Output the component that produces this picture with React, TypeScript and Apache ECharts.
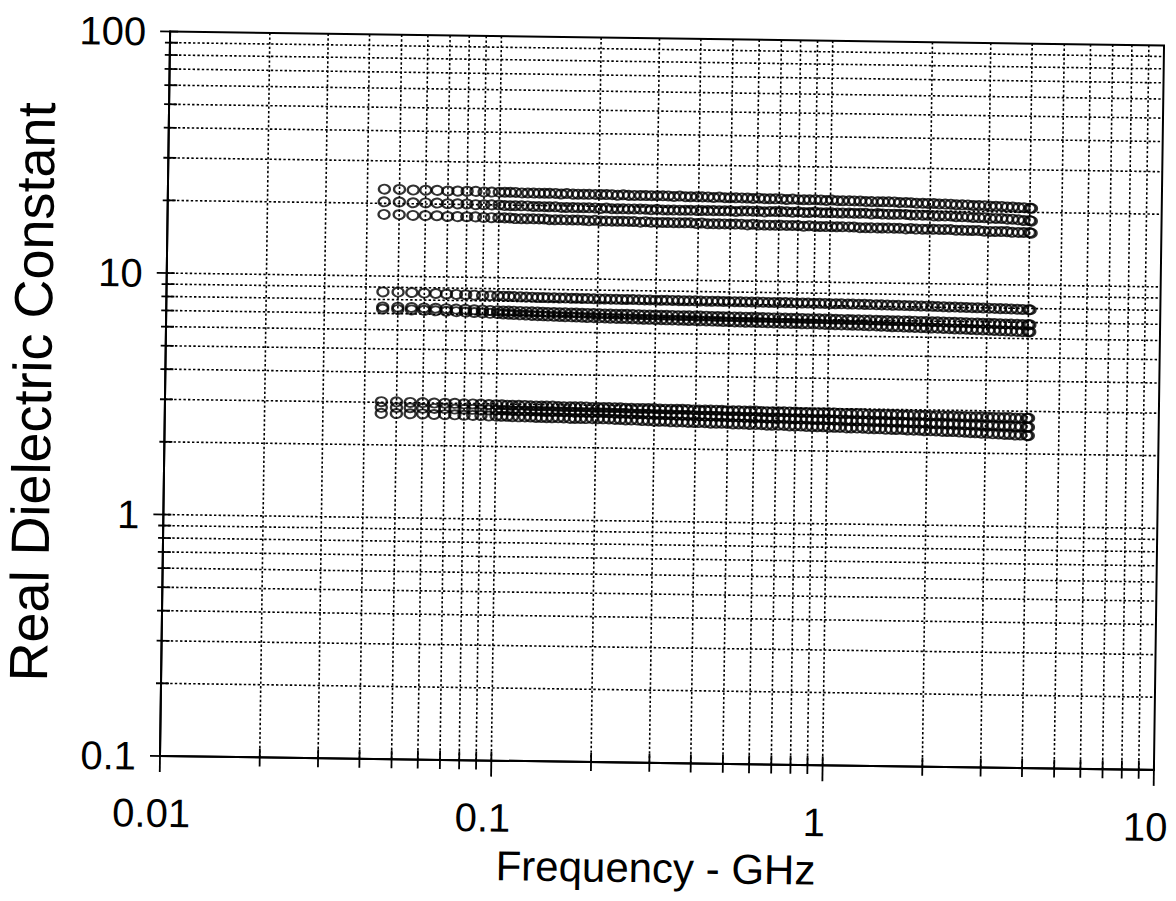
import React, { useEffect, useRef } from "react";
import * as echarts from "echarts";

// Frequency sweep (GHz): 5 MHz steps at the low end, then the dense part of the sweep
const freqGHz = [
  0.045, 0.05, 0.055, 0.06, 0.065, 0.07, 0.075, 0.08, 0.085, 0.09, 0.095,
  0.1, 0.104, 0.108, 0.112, 0.117, 0.122, 0.127, 0.132, 0.137, 0.142,
  0.148, 0.154, 0.16, 0.167, 0.173, 0.18, 0.187, 0.195, 0.203, 0.211,
  0.219, 0.228, 0.237, 0.246, 0.256, 0.267, 0.277, 0.288, 0.3, 0.312,
  0.324, 0.337, 0.351, 0.365, 0.379, 0.395, 0.41, 0.427, 0.444, 0.462,
  0.48, 0.499, 0.519, 0.54, 0.562, 0.584, 0.608, 0.632, 0.657, 0.683,
  0.711, 0.739, 0.769, 0.8, 0.832, 0.865, 0.9, 0.936, 0.973, 1.01,
  1.05, 1.09, 1.14, 1.18, 1.23, 1.28, 1.33, 1.39, 1.44, 1.5,
  1.56, 1.62, 1.69, 1.75, 1.82, 1.9, 1.97, 2.05, 2.13, 2.22,
  2.31, 2.4, 2.5, 2.6, 2.7, 2.81, 2.92, 3.04, 3.16, 3.29,
  3.42, 3.55, 3.7, 3.84, 4.0, 4.045,
];

const top1 = [
  22.9, 22.9, 22.8, 22.8, 22.8, 22.7, 22.7, 22.7, 22.7, 22.6, 22.6,
  22.6, 22.6, 22.6, 22.6, 22.5, 22.5, 22.5, 22.5, 22.5, 22.5,
  22.5, 22.4, 22.5, 22.4, 22.4, 22.4, 22.4, 22.4, 22.4, 22.4,
  22.4, 22.3, 22.4, 22.3, 22.3, 22.3, 22.3, 22.3, 22.3, 22.3,
  22.3, 22.2, 22.3, 22.2, 22.2, 22.2, 22.2, 22.2, 22.1, 22.2,
  22.1, 22.1, 22.1, 22.1, 22.1, 22.0, 22.1, 22.0, 22.0, 22.0,
  22.0, 21.9, 22.0, 21.9, 21.9, 21.9, 21.9, 21.9, 21.8, 21.9,
  21.8, 21.8, 21.8, 21.8, 21.8, 21.7, 21.7, 21.7, 21.7, 21.7,
  21.7, 21.6, 21.6, 21.6, 21.5, 21.5, 21.5, 21.5, 21.4, 21.4,
  21.4, 21.3, 21.3, 21.3, 21.2, 21.2, 21.2, 21.1, 21.1, 21.1,
  21.0, 21.0, 20.9, 20.9, 20.8, 20.8,
];
const top2 = [
  20.3, 20.3, 20.2, 20.2, 20.2, 20.1, 20.1, 20.1, 20.0, 20.0, 20.0,
  20.0, 19.9, 19.9, 19.9, 19.9, 19.9, 19.8, 19.8, 19.8, 19.8,
  19.8, 19.7, 19.7, 19.7, 19.7, 19.7, 19.7, 19.7, 19.6, 19.7,
  19.6, 19.6, 19.6, 19.6, 19.6, 19.6, 19.6, 19.5, 19.6, 19.5,
  19.5, 19.5, 19.5, 19.5, 19.5, 19.5, 19.5, 19.5, 19.5, 19.5,
  19.5, 19.5, 19.4, 19.5, 19.5, 19.5, 19.5, 19.4, 19.5, 19.5,
  19.5, 19.5, 19.4, 19.5, 19.4, 19.4, 19.5, 19.4, 19.4, 19.4,
  19.4, 19.4, 19.4, 19.4, 19.4, 19.4, 19.3, 19.4, 19.3, 19.3,
  19.3, 19.3, 19.3, 19.2, 19.2, 19.2, 19.2, 19.1, 19.1, 19.1,
  19.1, 19.0, 19.0, 19.0, 18.9, 18.9, 18.9, 18.8, 18.8, 18.8,
  18.7, 18.7, 18.6, 18.5, 18.5, 18.4,
];
const top3 = [
  18.0, 18.0, 17.9, 17.9, 17.9, 17.8, 17.8, 17.8, 17.8, 17.7, 17.7,
  17.7, 17.7, 17.7, 17.6, 17.6, 17.6, 17.6, 17.6, 17.6, 17.5,
  17.5, 17.5, 17.5, 17.5, 17.5, 17.5, 17.4, 17.5, 17.4, 17.4,
  17.4, 17.4, 17.4, 17.4, 17.4, 17.3, 17.4, 17.3, 17.3, 17.3,
  17.3, 17.3, 17.3, 17.3, 17.3, 17.2, 17.3, 17.2, 17.2, 17.2,
  17.2, 17.2, 17.2, 17.2, 17.1, 17.2, 17.1, 17.1, 17.1, 17.1,
  17.1, 17.1, 17.1, 17.1, 17.0, 17.1, 17.0, 17.0, 17.0, 17.0,
  17.0, 17.0, 17.0, 17.0, 16.9, 16.9, 16.9, 16.9, 16.9, 16.9,
  16.9, 16.9, 16.8, 16.9, 16.8, 16.8, 16.8, 16.8, 16.8, 16.8,
  16.8, 16.7, 16.7, 16.7, 16.7, 16.7, 16.6, 16.6, 16.6, 16.6,
  16.6, 16.5, 16.5, 16.5, 16.5, 16.4,
];
const mid1 = [
  8.6, 8.6, 8.58, 8.55, 8.53, 8.5, 8.48, 8.46, 8.44, 8.42, 8.41,
  8.4, 8.39, 8.38, 8.37, 8.36, 8.35, 8.34, 8.33, 8.33, 8.32,
  8.32, 8.31, 8.31, 8.3, 8.3, 8.29, 8.29, 8.28, 8.28, 8.28,
  8.27, 8.27, 8.26, 8.26, 8.26, 8.25, 8.25, 8.25, 8.24, 8.24,
  8.24, 8.24, 8.23, 8.23, 8.23, 8.23, 8.22, 8.22, 8.22, 8.22,
  8.21, 8.21, 8.21, 8.21, 8.2, 8.2, 8.2, 8.2, 8.19, 8.19,
  8.19, 8.19, 8.18, 8.18, 8.18, 8.18, 8.17, 8.17, 8.17, 8.16,
  8.16, 8.16, 8.15, 8.15, 8.14, 8.14, 8.13, 8.12, 8.12, 8.11,
  8.1, 8.1, 8.09, 8.09, 8.08, 8.07, 8.07, 8.06, 8.05, 8.04,
  8.03, 8.03, 8.02, 8.01, 8.0, 8.0, 7.99, 7.98, 7.97, 7.96,
  7.95, 7.94, 7.93, 7.92, 7.91, 7.9,
];
const mid2 = [
  7.45, 7.45, 7.44, 7.42, 7.41, 7.39, 7.37, 7.36, 7.34, 7.33, 7.31,
  7.3, 7.29, 7.28, 7.28, 7.27, 7.26, 7.25, 7.25, 7.24, 7.23,
  7.23, 7.22, 7.22, 7.21, 7.21, 7.2, 7.2, 7.19, 7.19, 7.18,
  7.18, 7.17, 7.17, 7.17, 7.16, 7.16, 7.15, 7.15, 7.15, 7.14,
  7.14, 7.14, 7.13, 7.13, 7.13, 7.12, 7.12, 7.12, 7.11, 7.11,
  7.1, 7.1, 7.1, 7.09, 7.09, 7.09, 7.08, 7.08, 7.08, 7.07,
  7.07, 7.07, 7.06, 7.06, 7.06, 7.05, 7.05, 7.05, 7.04, 7.04,
  7.03, 7.03, 7.03, 7.02, 7.02, 7.02, 7.01, 7.01, 7.0, 7.0,
  6.99, 6.99, 6.99, 6.98, 6.98, 6.97, 6.97, 6.96, 6.96, 6.95,
  6.95, 6.94, 6.94, 6.93, 6.92, 6.92, 6.91, 6.91, 6.9, 6.89,
  6.88, 6.88, 6.87, 6.86, 6.86, 6.85,
];
const mid3 = [
  7.3, 7.29, 7.27, 7.25, 7.23, 7.21, 7.19, 7.17, 7.15, 7.13, 7.11,
  7.1, 7.08, 7.07, 7.05, 7.04, 7.03, 7.01, 7.0, 6.99, 6.98,
  6.97, 6.96, 6.95, 6.95, 6.94, 6.93, 6.92, 6.92, 6.91, 6.91,
  6.9, 6.89, 6.89, 6.88, 6.88, 6.87, 6.86, 6.86, 6.85, 6.85,
  6.84, 6.84, 6.83, 6.83, 6.82, 6.82, 6.81, 6.81, 6.8, 6.8,
  6.78, 6.78, 6.77, 6.77, 6.76, 6.76, 6.75, 6.75, 6.74, 6.74,
  6.73, 6.73, 6.72, 6.72, 6.71, 6.71, 6.7, 6.7, 6.69, 6.69,
  6.68, 6.67, 6.67, 6.66, 6.66, 6.65, 6.64, 6.64, 6.63, 6.62,
  6.6, 6.6, 6.59, 6.59, 6.58, 6.57, 6.57, 6.56, 6.55, 6.54,
  6.53, 6.52, 6.52, 6.51, 6.5, 6.49, 6.48, 6.47, 6.46, 6.45,
  6.44, 6.43, 6.42, 6.41, 6.41, 6.4,
];
const low1 = [
  3.02, 3.02, 3.01, 3.01, 3.0, 3.0, 3.0, 2.99, 2.99, 2.99, 2.98,
  2.98, 2.98, 2.97, 2.97, 2.97, 2.97, 2.96, 2.96, 2.96, 2.96,
  2.96, 2.95, 2.95, 2.95, 2.95, 2.95, 2.95, 2.94, 2.94, 2.94,
  2.94, 2.94, 2.94, 2.93, 2.93, 2.93, 2.93, 2.93, 2.93, 2.92,
  2.92, 2.92, 2.92, 2.92, 2.92, 2.91, 2.91, 2.91, 2.91, 2.91,
  2.91, 2.9, 2.9, 2.9, 2.9, 2.9, 2.9, 2.89, 2.89, 2.89,
  2.89, 2.89, 2.89, 2.89, 2.88, 2.88, 2.88, 2.88, 2.88, 2.88,
  2.88, 2.87, 2.87, 2.87, 2.87, 2.87, 2.86, 2.86, 2.86, 2.86,
  2.86, 2.86, 2.85, 2.85, 2.85, 2.85, 2.85, 2.84, 2.84, 2.84,
  2.84, 2.84, 2.83, 2.83, 2.83, 2.83, 2.83, 2.82, 2.82, 2.82,
  2.82, 2.82, 2.81, 2.81, 2.81, 2.81,
];
const low2 = [
  2.86, 2.86, 2.86, 2.85, 2.85, 2.85, 2.84, 2.84, 2.84, 2.83, 2.83,
  2.83, 2.83, 2.83, 2.82, 2.82, 2.82, 2.82, 2.82, 2.81, 2.81,
  2.81, 2.81, 2.81, 2.81, 2.8, 2.8, 2.8, 2.8, 2.8, 2.8,
  2.8, 2.79, 2.79, 2.79, 2.78, 2.78, 2.78, 2.78, 2.77, 2.77,
  2.77, 2.77, 2.76, 2.76, 2.76, 2.76, 2.75, 2.75, 2.75, 2.75,
  2.74, 2.74, 2.74, 2.74, 2.73, 2.73, 2.73, 2.73, 2.72, 2.72,
  2.72, 2.72, 2.71, 2.71, 2.71, 2.71, 2.7, 2.7, 2.7, 2.7,
  2.69, 2.69, 2.69, 2.68, 2.68, 2.68, 2.68, 2.67, 2.67, 2.67,
  2.66, 2.66, 2.66, 2.65, 2.65, 2.65, 2.65, 2.64, 2.64, 2.64,
  2.63, 2.63, 2.63, 2.62, 2.62, 2.62, 2.61, 2.61, 2.61, 2.6,
  2.6, 2.6, 2.59, 2.59, 2.58, 2.58,
];
const low3 = [
  2.7, 2.7, 2.7, 2.7, 2.69, 2.69, 2.69, 2.68, 2.68, 2.68, 2.67,
  2.67, 2.67, 2.67, 2.66, 2.66, 2.66, 2.66, 2.65, 2.65, 2.65,
  2.65, 2.65, 2.65, 2.64, 2.64, 2.64, 2.64, 2.64, 2.64, 2.64,
  2.64, 2.63, 2.63, 2.62, 2.62, 2.62, 2.61, 2.61, 2.6, 2.6,
  2.6, 2.59, 2.59, 2.59, 2.58, 2.58, 2.58, 2.58, 2.57, 2.57,
  2.57, 2.57, 2.56, 2.56, 2.56, 2.55, 2.55, 2.55, 2.54, 2.54,
  2.54, 2.54, 2.53, 2.53, 2.53, 2.52, 2.52, 2.52, 2.52, 2.51,
  2.51, 2.51, 2.5, 2.5, 2.5, 2.5, 2.49, 2.49, 2.49, 2.48,
  2.48, 2.48, 2.48, 2.47, 2.47, 2.47, 2.46, 2.46, 2.46, 2.45,
  2.45, 2.45, 2.44, 2.44, 2.43, 2.43, 2.42, 2.42, 2.41, 2.41,
  2.4, 2.4, 2.39, 2.39, 2.38, 2.38,
];

const seriesList = [
  { name: "Sample A1", values: top1 },
  { name: "Sample A2", values: top2 },
  { name: "Sample A3", values: top3 },
  { name: "Sample B1", values: mid1 },
  { name: "Sample B2", values: mid2 },
  { name: "Sample B3", values: mid3 },
  { name: "Sample C1", values: low1 },
  { name: "Sample C2", values: low2 },
  { name: "Sample C3", values: low3 },
];

// Axis extents and grid/tick values
const xMin = 0.01;
const xMax = 10;
const yMin = 0.1;
const yMax = 100;
const xMajorGrid = [0.1, 1];
const xMinorGrid = [
  0.02, 0.03, 0.04, 0.05, 0.06, 0.07, 0.08, 0.09,
  0.2, 0.3, 0.4, 0.5, 0.6, 0.7, 0.8, 0.9,
  2, 3, 4, 5, 6, 7, 8, 9,
];
const yMajorGrid = [1, 10];
const yMinorGrid = [
  0.2, 0.3, 0.4, 0.5, 0.6, 0.7, 0.8, 0.9,
  2, 3, 4, 5, 6, 7, 8, 9,
  20, 30, 40, 50, 60, 70, 80, 90,
];

const FONT = "'Liberation Sans', Arial, Helvetica, sans-serif";

export default function App() {
  const ref = useRef<HTMLDivElement>(null);

  useEffect(() => {
    if (!ref.current) return;
    const chart = echarts.init(ref.current, undefined, { renderer: "svg" });

    const gridData: any[] = [];
    xMajorGrid.forEach((v) => gridData.push([v, 1, 0, 1]));
    xMinorGrid.forEach((v) => gridData.push([v, 1, 0, 0]));
    yMajorGrid.forEach((v) => gridData.push([1, v, 1, 1]));
    yMinorGrid.forEach((v) => gridData.push([1, v, 1, 0]));
    // axis-end ticks
    gridData.push([xMin, 1, 2, 1]);
    gridData.push([xMax, 1, 2, 1]);
    gridData.push([1, yMin, 3, 1]);
    gridData.push([1, yMax, 3, 1]);

    const dotted = { stroke: "#000", lineWidth: 1.6, lineDash: [2.4, 2.2] };
    const solid = { stroke: "#000", lineWidth: 1.8 };

    const gridSeries = {
      type: "custom",
      name: "grid",
      z: 1,
      silent: true,
      data: gridData,
      renderItem: (params: any, api: any) => {
        const kind = api.value(2);
        const major = api.value(3) === 1;
        if (kind === 0 || kind === 2) {
          const v = api.value(0);
          const pb = api.coord([v, yMin]);
          const pt = api.coord([v, yMax]);
          const children: any[] = [];
          if (kind === 0) {
            children.push({
              type: "line",
              shape: { x1: pb[0], y1: pb[1], x2: pt[0], y2: pt[1] },
              style: dotted,
            });
          }
          children.push({
            type: "line",
            shape: { x1: pb[0], y1: pb[1] - 9, x2: pb[0], y2: pb[1] + (major ? 16 : 9) },
            style: solid,
          });
          return { type: "group", children };
        } else {
          const v = api.value(1);
          const pl = api.coord([xMin, v]);
          const pr = api.coord([xMax, v]);
          const children: any[] = [];
          if (kind === 1) {
            children.push({
              type: "line",
              shape: { x1: pl[0], y1: pl[1], x2: pr[0], y2: pr[1] },
              style: dotted,
            });
          }
          children.push({
            type: "line",
            shape: { x1: pl[0] - (major ? 10 : 5), y1: pl[1], x2: pl[0] + 8, y2: pl[1] },
            style: solid,
          });
          return { type: "group", children };
        }
      },
    };

    const fmt = (v: number) => String(parseFloat(v.toPrecision(3)));

    const option: any = {
      animation: false,
      backgroundColor: "#fff",
      textStyle: { fontFamily: FONT },
      grid: {
        left: 160,
        right: 22,
        top: 31.5,
        bottom: 145,
        containLabel: false,
        outerBoundsMode: "none",
        show: true,
        borderColor: "#000",
        borderWidth: 2,
        backgroundColor: "transparent",
      },
      xAxis: {
        type: "log",
        logBase: 10,
        min: xMin,
        max: xMax,
        name: "Frequency - GHz",
        nameLocation: "middle",
        nameGap: 84,
        nameTextStyle: { fontSize: 42, color: "#000", fontFamily: FONT },
        axisLine: { show: true, lineStyle: { color: "#000", width: 2 } },
        axisTick: { show: false },
        splitLine: { show: false },
        minorTick: { show: false },
        axisLabel: {
          fontSize: 40,
          color: "#000",
          margin: 37,
          fontFamily: FONT,
          padding: [0, 16, 0, 0],
          formatter: fmt,
        },
      },
      yAxis: {
        type: "log",
        logBase: 10,
        min: yMin,
        max: yMax,
        name: "Real Dielectric Constant",
        nameLocation: "middle",
        nameGap: 110,
        nameTextStyle: { fontSize: 54, lineHeight: 46, color: "#000", fontFamily: FONT },
        axisLine: { show: true, lineStyle: { color: "#000", width: 2 } },
        axisTick: { show: false },
        splitLine: { show: false },
        minorTick: { show: false },
        axisLabel: { fontSize: 40, color: "#000", margin: 24, fontFamily: FONT, formatter: fmt },
      },
      series: [
        gridSeries,
        ...seriesList.map((s) => ({
          type: "scatter",
          name: s.name,
          z: 3,
          symbol: "circle",
          symbolSize: [11, 9],
          itemStyle: { color: "rgba(0,0,0,0)", borderColor: "#000", borderWidth: 2.1 },
          data: freqGHz.map((f, i) => [f, s.values[i]]),
        })),
      ],
    };

    chart.setOption(option);
    return () => chart.dispose();
  }, []);

  return (
    <div
      ref={ref}
      style={{
        position: "absolute",
        left: 0,
        top: 0,
        width: 1176,
        height: 901,
        background: "#fff",
        transform: "rotate(0.8deg)",
        transformOrigin: "160px 756px",
      }}
    />
  );
}
